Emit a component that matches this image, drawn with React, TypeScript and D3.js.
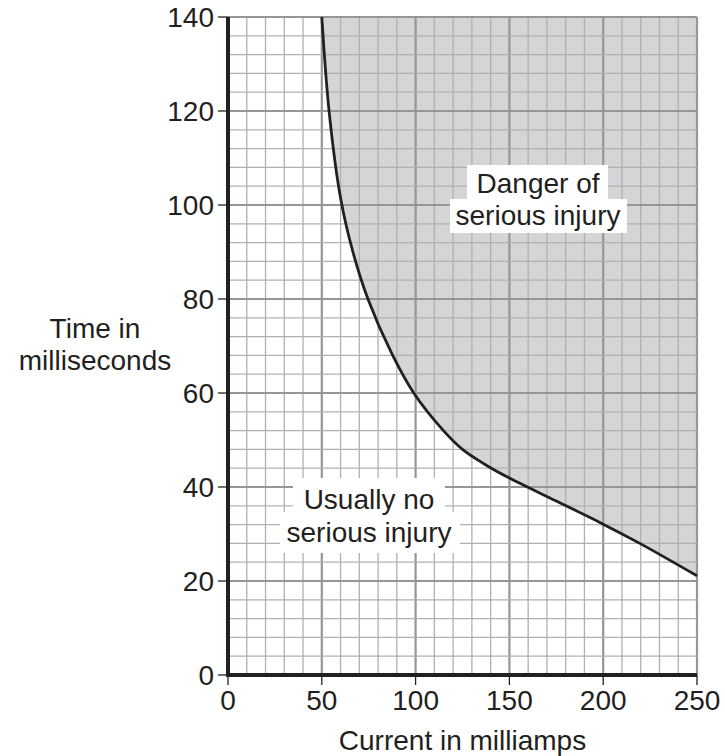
import React from "react";
import * as d3 from "d3";

const curveCurrent = [50, 54, 60, 66.6, 74.6, 87.4, 99, 114.6, 125, 137, 150, 175, 200, 220, 250];
const curveTime = [140, 119.5, 101.5, 90, 80, 68.3, 60, 52.1, 48.0, 44.8, 41.9, 37, 32.1, 27.9, 21.1];
const xTicks = [0, 50, 100, 150, 200, 250];
const yTicks = [0, 20, 40, 60, 80, 100, 120, 140];
const xTitle = "Current in milliamps";
const yTitle = ["Time in", "milliseconds"];
const dangerLines = ["Danger of", "serious injury"];
const safeLines = ["Usually no", "serious injury"];

const W = 725, H = 756;
const L = 228, R = 697, T = 17, B = 675;

export default function App() {
  const x = d3.scaleLinear().domain([0, 250]).range([L, R]);
  const y = d3.scaleLinear().domain([0, 140]).range([B, T]);
  const pts: [number, number][] = curveCurrent.map((c, i) => [c, curveTime[i]]);
  const smooth = d3.curveCatmullRom.alpha(0.5);
  const line = d3.line<[number, number]>().x(d => x(d[0])).y(d => y(d[1])).curve(smooth);
  const area = d3.area<[number, number]>().x(d => x(d[0])).y0(y(140)).y1(d => y(d[1])).curve(smooth);
  const minorX = d3.range(0, 251, 10);
  const minorY = d3.range(0, 141, 4);
  const font = "Liberation Sans, Arial, sans-serif";
  const fs = 28;
  const ink = "#231f20";
  return (
    <svg width={W} height={H} style={{ position: "absolute", left: 0, top: 0, fontFamily: font }}>
      <rect width={W} height={H} fill="#fff" />
      <path d={area(pts) || ""} fill="#d5d5d7" />
      {minorX.map(v => (
        <line key={"mx" + v} x1={x(v)} x2={x(v)} y1={T} y2={B} stroke={v % 50 === 0 ? "#969696" : "#b0b0b0"} strokeWidth={v % 50 === 0 ? 2.2 : 1.3} />
      ))}
      {minorY.map(v => (
        <line key={"my" + v} x1={L} x2={R} y1={y(v)} y2={y(v)} stroke={v % 20 === 0 ? "#969696" : "#b0b0b0"} strokeWidth={v % 20 === 0 ? 2.2 : 1.3} />
      ))}
      <path d={line(pts) || ""} fill="none" stroke={ink} strokeWidth={2.8} />
      <line x1={L} x2={L} y1={T} y2={B + 2} stroke={ink} strokeWidth={4} />
      <line x1={L - 2} x2={R} y1={B} y2={B} stroke={ink} strokeWidth={4} />
      {xTicks.map(v => (
        <g key={"xt" + v}>
          <line x1={x(v)} x2={x(v)} y1={B} y2={B + 10} stroke={ink} strokeWidth={1.3} />
          <text x={x(v)} y={B + 35} textAnchor="middle" fontSize={fs} fill={ink}>{v}</text>
        </g>
      ))}
      {yTicks.map(v => (
        <g key={"yt" + v}>
          <line x1={L - 10} x2={L} y1={y(v)} y2={y(v)} stroke={ink} strokeWidth={1.3} />
          <text x={L - 14} y={y(v) + 10} textAnchor="end" fontSize={fs} fill={ink}>{v}</text>
        </g>
      ))}
      <text x={(L + R) / 2} y={750} textAnchor="middle" fontSize={fs} fill={ink}>{xTitle}</text>
      {yTitle.map((t, i) => (
        <text key={t} x={95} y={338 + i * 32} textAnchor="middle" fontSize={fs} fill={ink}>{t}</text>
      ))}
      <rect x={467} y={165} width={141} height={36} fill="#fff" />
      <rect x={450} y={199} width={177} height={34} fill="#fff" />
      {dangerLines.map((t, i) => (
        <text key={t} x={538} y={193 + i * 32} textAnchor="middle" fontSize={fs} fill={ink}>{t}</text>
      ))}
      <rect x={293} y={478} width={152} height={75} fill="#fff" />
      <rect x={280} y={512} width={180} height={41} fill="#fff" />
      {safeLines.map((t, i) => (
        <text key={t + i} x={369} y={509 + i * 33} textAnchor="middle" fontSize={fs} fill={ink}>{t}</text>
      ))}
    </svg>
  );
}
